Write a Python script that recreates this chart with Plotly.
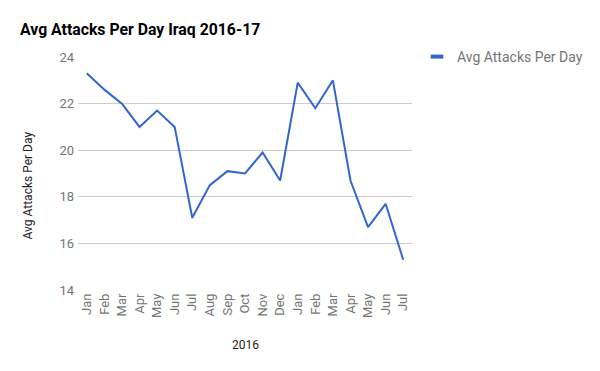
import plotly.graph_objects as go

months = ["Jan", "Feb", "Mar", "Apr", "May", "Jun", "Jul", "Aug", "Sep", "Oct",
          "Nov", "Dec", "Jan", "Feb", "Mar", "Apr", "May", "Jun", "Jul"]
avg_attacks = [23.3, 22.6, 22.0, 21.0, 21.7, 21.0, 17.1, 18.5, 19.1, 19.0,
               19.9, 18.7, 22.9, 21.8, 23.0, 18.7, 16.7, 17.7, 15.3]
y_ticks = [14, 16, 18, 20, 22, 24]
series_name = "Avg Attacks Per Day"
title_text = "Avg Attacks Per Day Iraq 2016-17"
x_title = "2016"
y_title = "Avg Attacks Per Day"

idx = list(range(len(months)))
color = "#3366cc"
font = "Roboto, Arial, sans-serif"

fig = go.Figure()
fig.add_trace(go.Scatter(x=idx, y=avg_attacks, mode="lines",
                         line=dict(color=color, width=2),
                         name=series_name, showlegend=False))
fig.add_trace(go.Scatter(x=[None], y=[None], mode="markers", name=series_name,
                         marker=dict(symbol="line-ew", size=9, color=color,
                                     line=dict(color=color, width=4)),
                         showlegend=True))

L, R, T, B = 78, 185, 57, 81
PW, PH = 600 - L - R, 371 - T - B
fig.update_layout(
    width=600, height=371,
    margin=dict(l=L, r=R, t=T, b=B),
    paper_bgcolor="white", plot_bgcolor="white",
    font=dict(family=font, size=13, color="#757575"),
    title=dict(text="<b>" + title_text + "</b>", x=20 / 600, xanchor="left",
               y=1 - 29 / 371, yanchor="middle",
               font=dict(family=font, size=15.8, color="#000000")),
    legend=dict(x=(420 - L) / PW, xanchor="left", y=1.0, yanchor="middle",
                font=dict(family=font, size=14, color="#757575"),
                bgcolor="rgba(0,0,0,0)"),
    xaxis=dict(range=[-0.5, len(months) - 0.5], tickmode="array",
               tickvals=idx, ticktext=months, tickangle=-90,
               showgrid=False, zeroline=False, showline=False, ticks="",
               tickfont=dict(size=13, color="#757575"), fixedrange=True),
    yaxis=dict(range=[14, 24], tickmode="array", tickvals=y_ticks,
               showgrid=True, gridcolor="#cccccc", gridwidth=1,
               zeroline=False, showline=False, ticks="",
               ticklabelstandoff=3,
               tickfont=dict(size=13, color="#757575"), fixedrange=True),
    annotations=[
        dict(text=y_title, xref="paper", yref="paper",
             x=-(L - 28) / PW, y=(290 - 185) / PH,
             xanchor="center", yanchor="middle", textangle=-90,
             showarrow=False, font=dict(family=font, size=12, color="#222222")),
        dict(text=x_title, xref="paper", yref="paper",
             x=0.5, y=-(345 - 290) / PH,
             xanchor="center", yanchor="middle",
             showarrow=False, font=dict(family=font, size=12, color="#222222")),
    ],
)

fig.write_html(
    "out.html",
    config={"displayModeBar": False, "staticPlot": True},
    post_script="document.body.style.margin='0';document.body.style.overflow='hidden';",
)
